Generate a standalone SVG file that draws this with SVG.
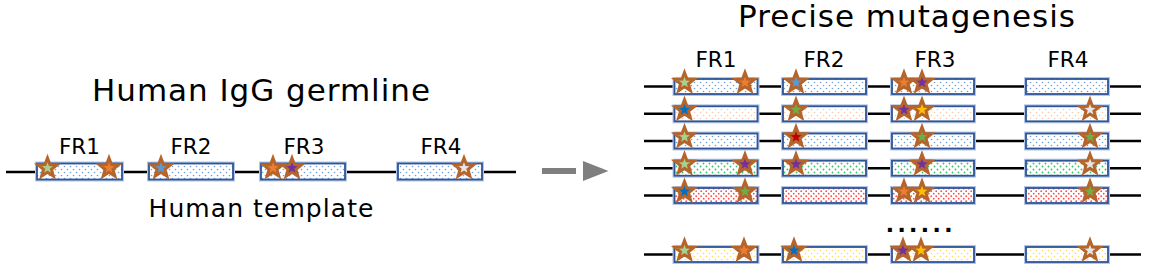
<svg xmlns="http://www.w3.org/2000/svg" xmlns:xlink="http://www.w3.org/1999/xlink" width="1167" height="267" viewBox="0 0 1167 267">
<style>
text{font-family:"DejaVu Sans","Noto Sans",sans-serif;fill:#000}
.title{font-size:31px}
.sub{font-size:25px}
.fr{font-size:21.5px}
.ln{stroke:#000;stroke-width:2.6;fill:none}
.glow{fill:none;stroke:#B4C7E7;stroke-width:4}
.bx{stroke:#2F5597;stroke-width:1.8}
.st{stroke:#B5652B;stroke-width:3;stroke-linejoin:miter}
</style>
<defs>
<path id="star" d="M0,-10 L2.47,-3.4 L9.51,-3.09 L3.99,1.3 L5.88,8.09 L0,4.2 L-5.88,8.09 L-3.99,1.3 L-9.51,-3.09 L-2.47,-3.4 Z"/>
<pattern id="pB" width="6" height="6" patternUnits="userSpaceOnUse"><rect width="6" height="6" fill="#fff"/><circle cx="1.5" cy="1.5" r="0.8" fill="#6F9FD8"/><circle cx="4.5" cy="4.5" r="0.8" fill="#6F9FD8"/></pattern>
<pattern id="pO" width="6" height="6" patternUnits="userSpaceOnUse"><rect width="6" height="6" fill="#fff"/><circle cx="1.5" cy="1.5" r="0.8" fill="#F8CBAD"/><circle cx="4.5" cy="4.5" r="0.8" fill="#F8CBAD"/></pattern>
<pattern id="pG" width="6" height="6" patternUnits="userSpaceOnUse"><rect width="6" height="6" fill="#fff"/><circle cx="1.5" cy="1.5" r="0.9" fill="#3DBE6E"/><circle cx="4.5" cy="4.5" r="0.9" fill="#3DBE6E"/></pattern>
<pattern id="pR" width="5" height="5" patternUnits="userSpaceOnUse"><rect width="5" height="5" fill="#fff"/><circle cx="1.2" cy="1.2" r="0.9" fill="#FF4B4B"/><circle cx="3.7" cy="3.7" r="0.9" fill="#FF4B4B"/></pattern>
<pattern id="pY" width="6" height="6" patternUnits="userSpaceOnUse"><rect width="6" height="6" fill="#fff"/><circle cx="1.5" cy="1.5" r="0.8" fill="#FFD966"/><circle cx="4.5" cy="4.5" r="0.8" fill="#FFD966"/></pattern>
</defs>
<rect width="1167" height="267" fill="#fff"/>

<g id="left-title"><text class="title" x="261" y="101" text-anchor="middle" textLength="338" lengthAdjust="spacing">Human IgG germline</text></g>
<g id="left-template">
<line class="ln" x1="6" y1="172" x2="516" y2="172"/>
<g class="glow"><rect x="37" y="163.5" width="85" height="16"/><rect x="149" y="163.5" width="84" height="16"/><rect x="261" y="163.5" width="84" height="16"/><rect x="398" y="163.5" width="84" height="16"/></g>
<g class="bx" fill="url(#pB)"><rect x="37" y="163.5" width="85" height="16"/><rect x="149" y="163.5" width="84" height="16"/><rect x="261" y="163.5" width="84" height="16"/><rect x="398" y="163.5" width="84" height="16"/></g>
<text class="fr" x="79.5" y="154" text-anchor="middle">FR1</text>
<text class="fr" x="191" y="154" text-anchor="middle">FR2</text>
<text class="fr" x="304" y="154" text-anchor="middle">FR3</text>
<text class="fr" x="441" y="154" text-anchor="middle">FR4</text>
<g class="st">
<use xlink:href="#star" x="47.5" y="168" fill="#A9D18E"/>
<use xlink:href="#star" x="109" y="168" fill="#ED7D31"/>
<use xlink:href="#star" x="161" y="168" fill="#5B9BD5"/>
<use xlink:href="#star" x="273" y="168" fill="#ED7D31"/>
<use xlink:href="#star" x="292" y="168" fill="#7030A0"/>
<use xlink:href="#star" x="464" y="168" fill="#E7E6E6"/>
</g>
<text class="sub" x="261" y="217" text-anchor="middle" textLength="225" lengthAdjust="spacing">Human template</text>
</g>

<g id="connectors">
<rect x="542" y="168" width="34" height="6" fill="#7F7F7F"/>
<polygon points="583,161 608.5,171 583,181" fill="#7F7F7F"/>
</g>

<g id="right-title"><text class="title" x="906.5" y="27" text-anchor="middle" textLength="337" lengthAdjust="spacing">Precise mutagenesis</text></g>
<g id="right-labels">
<text class="fr" x="716" y="66.5" text-anchor="middle">FR1</text>
<text class="fr" x="824" y="66.5" text-anchor="middle">FR2</text>
<text class="fr" x="935" y="66.5" text-anchor="middle">FR3</text>
<text class="fr" x="1068" y="66.5" text-anchor="middle">FR4</text>
</g>

<g id="row1">
<line class="ln" x1="644" y1="86.5" x2="1141" y2="86.5"/>
<g class="glow"><rect x="674.5" y="79" width="83" height="15"/><rect x="783" y="79" width="83" height="15"/><rect x="892" y="79" width="82" height="15"/><rect x="1026" y="79" width="82" height="15"/></g>
<g class="bx" fill="url(#pB)"><rect x="674.5" y="79" width="83" height="15"/><rect x="783" y="79" width="83" height="15"/><rect x="892" y="79" width="82" height="15"/><rect x="1026" y="79" width="82" height="15"/></g>
<g class="st">
<use xlink:href="#star" x="684.5" y="82.5" fill="#A9D18E"/>
<use xlink:href="#star" x="745" y="82.5" fill="#ED7D31"/>
<use xlink:href="#star" x="796" y="82.5" fill="#5B9BD5"/>
<use xlink:href="#star" x="904" y="82.5" fill="#ED7D31"/>
<use xlink:href="#star" x="922" y="82.5" fill="#7030A0"/>
</g>
</g>

<g id="row2">
<line class="ln" x1="644" y1="113.8" x2="1141" y2="113.8"/>
<g class="glow"><rect x="674.5" y="106.3" width="83" height="15"/><rect x="783" y="106.3" width="83" height="15"/><rect x="892" y="106.3" width="82" height="15"/><rect x="1026" y="106.3" width="82" height="15"/></g>
<g class="bx" fill="url(#pO)"><rect x="674.5" y="106.3" width="83" height="15"/><rect x="783" y="106.3" width="83" height="15"/><rect x="892" y="106.3" width="82" height="15"/><rect x="1026" y="106.3" width="82" height="15"/></g>
<g class="st">
<use xlink:href="#star" x="684.5" y="109.8" fill="#0070C0"/>
<use xlink:href="#star" x="796" y="109.8" fill="#70AD47"/>
<use xlink:href="#star" x="904" y="109.8" fill="#7030A0"/>
<use xlink:href="#star" x="922" y="109.8" fill="#FFC000"/>
<use xlink:href="#star" x="1090" y="109.8" fill="#E7E6E6"/>
</g>
</g>

<g id="row3">
<line class="ln" x1="644" y1="141" x2="1141" y2="141"/>
<g class="glow"><rect x="674.5" y="133.5" width="83" height="15"/><rect x="783" y="133.5" width="83" height="15"/><rect x="892" y="133.5" width="82" height="15"/><rect x="1026" y="133.5" width="82" height="15"/></g>
<g class="bx" fill="url(#pB)"><rect x="674.5" y="133.5" width="83" height="15"/><rect x="783" y="133.5" width="83" height="15"/><rect x="892" y="133.5" width="82" height="15"/><rect x="1026" y="133.5" width="82" height="15"/></g>
<g class="st">
<use xlink:href="#star" x="684.5" y="137" fill="#A9D18E"/>
<use xlink:href="#star" x="796" y="137" fill="#C00000"/>
<use xlink:href="#star" x="922" y="137" fill="#70AD47"/>
<use xlink:href="#star" x="1090" y="137" fill="#70AD47"/>
</g>
</g>

<g id="row4">
<line class="ln" x1="644" y1="168.2" x2="1141" y2="168.2"/>
<g class="glow"><rect x="674.5" y="160.7" width="83" height="15"/><rect x="783" y="160.7" width="83" height="15"/><rect x="892" y="160.7" width="82" height="15"/><rect x="1026" y="160.7" width="82" height="15"/></g>
<g class="bx" fill="url(#pG)"><rect x="674.5" y="160.7" width="83" height="15"/><rect x="783" y="160.7" width="83" height="15"/><rect x="892" y="160.7" width="82" height="15"/><rect x="1026" y="160.7" width="82" height="15"/></g>
<g class="st">
<use xlink:href="#star" x="684.5" y="164.2" fill="#A9D18E"/>
<use xlink:href="#star" x="745" y="164.2" fill="#7030A0"/>
<use xlink:href="#star" x="796" y="164.2" fill="#7030A0"/>
<use xlink:href="#star" x="922" y="164.2" fill="#7030A0"/>
<use xlink:href="#star" x="1090" y="164.2" fill="#E7E6E6"/>
</g>
</g>

<g id="row5">
<line class="ln" x1="644" y1="195.5" x2="1141" y2="195.5"/>
<g class="glow"><rect x="674.5" y="188" width="83" height="15"/><rect x="783" y="188" width="83" height="15"/><rect x="892" y="188" width="82" height="15"/><rect x="1026" y="188" width="82" height="15"/></g>
<g class="bx" fill="url(#pR)"><rect x="674.5" y="188" width="83" height="15"/><rect x="783" y="188" width="83" height="15"/><rect x="892" y="188" width="82" height="15"/><rect x="1026" y="188" width="82" height="15"/></g>
<g class="st">
<use xlink:href="#star" x="684.5" y="191.5" fill="#0070C0"/>
<use xlink:href="#star" x="745" y="191.5" fill="#70AD47"/>
<use xlink:href="#star" x="904" y="191.5" fill="#ED7D31"/>
<use xlink:href="#star" x="922" y="191.5" fill="#FFC000"/>
<use xlink:href="#star" x="1090" y="191.5" fill="#70AD47"/>
</g>
</g>

<g id="ellipsis"><text x="886" y="232" style="font-family:'Liberation Sans',sans-serif;font-size:28px;font-weight:bold;letter-spacing:3.9px">......</text></g>

<g id="row6">
<line class="ln" x1="644" y1="254.5" x2="1141" y2="254.5"/>
<g class="glow"><rect x="674.5" y="247" width="83" height="15"/><rect x="783" y="247" width="83" height="15"/><rect x="892" y="247" width="82" height="15"/><rect x="1026" y="247" width="82" height="15"/></g>
<g class="bx" fill="url(#pY)"><rect x="674.5" y="247" width="83" height="15"/><rect x="783" y="247" width="83" height="15"/><rect x="892" y="247" width="82" height="15"/><rect x="1026" y="247" width="82" height="15"/></g>
<g class="st">
<use xlink:href="#star" x="684.5" y="250.5" fill="#A9D18E"/>
<use xlink:href="#star" x="744" y="250.5" fill="#ED7D31"/>
<use xlink:href="#star" x="794" y="250.5" fill="#0070C0"/>
<use xlink:href="#star" x="903" y="250.5" fill="#7030A0"/>
<use xlink:href="#star" x="921" y="250.5" fill="#FFC000"/>
<use xlink:href="#star" x="1090" y="250.5" fill="#E7E6E6"/>
</g>
</g>
</svg>
